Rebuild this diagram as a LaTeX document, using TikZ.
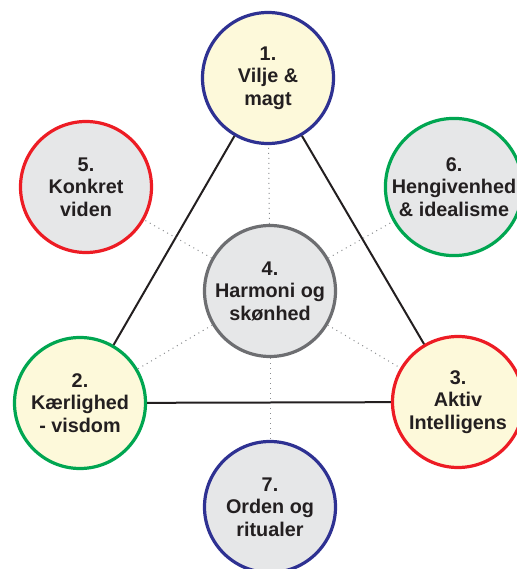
\documentclass[tikz,border=0pt]{standalone}
\usepackage{fontspec}
\setmainfont{Liberation Sans}
\usepackage{xcolor}
\usepackage{tikz}
\usetikzlibrary{positioning}
\definecolor{cream}{HTML}{FDF9DA}
\definecolor{pale}{HTML}{E6E7E8}
\definecolor{navy}{HTML}{2E3192}
\definecolor{rred}{HTML}{ED1C24}
\definecolor{ggreen}{HTML}{00A651}
\definecolor{ring}{HTML}{6D6E71}
\definecolor{ink}{HTML}{231F20}
\definecolor{dots}{HTML}{8A8C8F}
\tikzset{
  ray/.style={circle, minimum size=131pt, inner sep=0pt, line width=3.2pt, align=center,
    text=ink, font=\fontsize{19.8}{22.5}\selectfont\bfseries},
  side/.style={draw=ink, line width=2pt},
  link/.style={draw=dots, line width=1pt, dash pattern=on 1pt off 4pt},
}

\begin{document}
\begin{tikzpicture}[x=1pt, y=-1pt]
\useasboundingbox (0,0) rectangle (516,569);
\node[ray, draw=navy, fill=cream] (r1) at (268,78) {1.\\Vilje \&\\magt};
\node[ray, draw=ggreen, fill=cream] (r2) at (80,403) {2.\\Kærlighed\\- visdom};
\node[ray, draw=rred, fill=cream] (r3) at (458,402) {3.\\Aktiv\\Intelligens};
\node[ray, draw=ring, fill=pale] (r4) at (270,291) {4.\\Harmoni og\\skønhed};
\node[ray, draw=rred, fill=pale] (r5) at (86,187) {5.\\Konkret\\viden};
\node[ray, draw=ggreen, fill=pale] (r6) at (454,187) {6.\\Hengivenhed\\\& idealisme};
\node[ray, draw=navy, fill=pale] (r7) at (270,507) {7.\\Orden og\\ritualer};
% triangle of the three main rays
\draw[side] (r1) -- (r2);
\draw[side] (r1) -- (r3);
\draw[side] (r2) -- (r3);
% links from the centre
\foreach \n in {r1,r2,r3,r5,r6,r7}
  \draw[link] (r4) -- (\n);
\end{tikzpicture}
\end{document}
